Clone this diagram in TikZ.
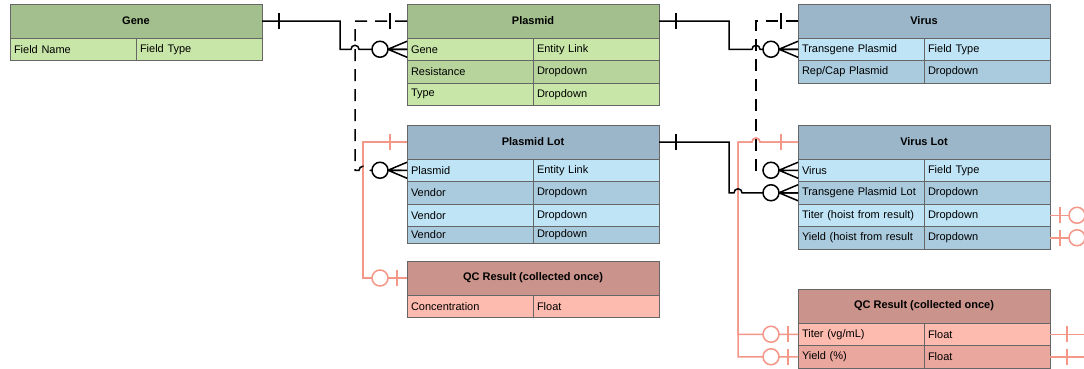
\documentclass[tikz,border=0pt]{standalone}
\usepackage{fontspec}
\setmainfont{Liberation Sans}
\usepackage{xcolor}
\usepackage{tikz}
\usetikzlibrary{positioning,calc}

\definecolor{greenhead}{RGB}{163,191,141}
\definecolor{greenrow}{RGB}{199,230,167}
\definecolor{greenalt}{RGB}{182,212,155}
\definecolor{bluehead}{RGB}{155,182,201}
\definecolor{bluerow}{RGB}{190,228,246}
\definecolor{bluealt}{RGB}{170,203,222}
\definecolor{redhead}{RGB}{202,147,139}
\definecolor{redrow}{RGB}{253,186,175}
\definecolor{redalt}{RGB}{234,167,158}
\definecolor{qcline}{RGB}{244,150,136}

\begin{document}
\begin{tikzpicture}[
  x=1pt, y=1pt,
  font=\fontsize{11pt}{13pt}\selectfont,
  head/.style={rectangle, draw=black!60, fill=#1, line width=0.8pt, font=\fontsize{11pt}{13pt}\selectfont\bfseries, minimum width=252pt, minimum height=34pt, inner sep=0pt, outer sep=0pt},
  cell/.style={rectangle, draw=black!60, fill=#1, line width=0.8pt, text width=118pt, inner xsep=4pt, inner ysep=0pt, minimum height=22.5pt, align=left, outer sep=0pt},
  rel/.style={line width=1.5pt, black},
  qc/.style={line width=1.5pt, qcline},
  linkdash/.style={rel, dash pattern=on 12pt off 8pt},
  pics/zeromany/.style={code={
    \draw (-19,0) -- (0,8) (-19,0) -- (0,0) (-19,0) -- (0,-8);
    \draw[fill=white] (-27,0) circle[radius=8pt];
  }},
  pics/zeroone/.style={code={
    \draw (-10,8) -- (-10,-8);
    \draw[fill=white] (-27,0) circle[radius=8pt];
  }},
  pics/onebar/.style={code={
    \draw (-17,8) -- (-17,-8);
  }}
]
  \useasboundingbox (0,0) rectangle (1084,-368);
  \clip (0,0) rectangle (1084,-368);

  % Gene table
  \node[head=greenhead] (gene) at (136,-21) {Gene};
  \node[cell=greenrow, anchor=north west] (gene-n1) at (gene.south west) {Field Name};
  \node[cell=greenrow, right=0pt of gene-n1] (gene-t1) {Field Type};

  % Plasmid table
  \node[head=greenhead] (plasmid) at (533,-21) {Plasmid};
  \node[cell=greenrow, anchor=north west] (plasmid-n1) at (plasmid.south west) {Gene};
  \node[cell=greenrow, right=0pt of plasmid-n1] (plasmid-t1) {Entity Link};
  \node[cell=greenalt, below=0pt of plasmid-n1] (plasmid-n2) {Resistance};
  \node[cell=greenalt, right=0pt of plasmid-n2] (plasmid-t2) {Dropdown};
  \node[cell=greenrow, below=0pt of plasmid-n2] (plasmid-n3) {Type};
  \node[cell=greenrow, right=0pt of plasmid-n3] (plasmid-t3) {Dropdown};

  % Virus table
  \node[head=bluehead] (virus) at (924,-21) {Virus};
  \node[cell=bluerow, anchor=north west] (virus-n1) at (virus.south west) {Transgene Plasmid};
  \node[cell=bluerow, right=0pt of virus-n1] (virus-t1) {Field Type};
  \node[cell=bluealt, below=0pt of virus-n1] (virus-n2) {Rep/Cap Plasmid};
  \node[cell=bluealt, right=0pt of virus-n2] (virus-t2) {Dropdown};

  % Plasmid Lot table
  \node[head=bluehead] (plasmidlot) at (533,-142) {Plasmid Lot};
  \node[cell=bluerow, anchor=north west] (plasmidlot-n1) at (plasmidlot.south west) {Plasmid};
  \node[cell=bluerow, right=0pt of plasmidlot-n1] (plasmidlot-t1) {Entity Link};
  \node[cell=bluealt, below=0pt of plasmidlot-n1] (plasmidlot-n2) {Vendor};
  \node[cell=bluealt, right=0pt of plasmidlot-n2] (plasmidlot-t2) {Dropdown};
  \node[cell=bluerow, below=0pt of plasmidlot-n2] (plasmidlot-n3) {Vendor};
  \node[cell=bluerow, right=0pt of plasmidlot-n3] (plasmidlot-t3) {Dropdown};
  \node[cell=bluealt, minimum height=17pt, below=0pt of plasmidlot-n3] (plasmidlot-n4) {Vendor};
  \node[cell=bluealt, minimum height=17pt, right=0pt of plasmidlot-n4] (plasmidlot-t4) {Dropdown};

  % Virus Lot table
  \node[head=bluehead] (viruslot) at (924,-142) {Virus Lot};
  \node[cell=bluerow, anchor=north west] (viruslot-n1) at (viruslot.south west) {Virus};
  \node[cell=bluerow, right=0pt of viruslot-n1] (viruslot-t1) {Field Type};
  \node[cell=bluealt, below=0pt of viruslot-n1] (viruslot-n2) {Transgene Plasmid Lot};
  \node[cell=bluealt, right=0pt of viruslot-n2] (viruslot-t2) {Dropdown};
  \node[cell=bluerow, below=0pt of viruslot-n2] (viruslot-n3) {Titer (hoist from result)};
  \node[cell=bluerow, right=0pt of viruslot-n3] (viruslot-t3) {Dropdown};
  \node[cell=bluealt, below=0pt of viruslot-n3] (viruslot-n4) {Yield (hoist from result};
  \node[cell=bluealt, right=0pt of viruslot-n4] (viruslot-t4) {Dropdown};

  % QC Result tables
  \node[head=redhead] (qcplasmid) at (533,-278) {QC Result (collected once)};
  \node[cell=redrow, anchor=north west] (qcplasmid-n1) at (qcplasmid.south west) {Concentration};
  \node[cell=redrow, right=0pt of qcplasmid-n1] (qcplasmid-t1) {Float};

  \node[head=redhead] (qcvirus) at (924,-306) {QC Result (collected once)};
  \node[cell=redrow, anchor=north west] (qcvirus-n1) at (qcvirus.south west) {Titer (vg/mL)};
  \node[cell=redrow, right=0pt of qcvirus-n1] (qcvirus-t1) {Float};
  \node[cell=redalt, below=0pt of qcvirus-n1] (qcvirus-n2) {Yield (\%)};
  \node[cell=redalt, right=0pt of qcvirus-n2] (qcvirus-t2) {Float};

  % Dashed links
  \draw[linkdash] (virus.west) -- ++(-42,0) |- (viruslot-n1.west);

  % QC links
  \draw[qc] (plasmidlot.west) -- ++(-44,0) |- (qcplasmid.west);
  \draw[qc] (viruslot.west) -- ++(-38,0) arc[start angle=0, end angle=180, radius=4pt]
    -- ++(-14,0) |- (qcvirus-n1.west);
  \draw[qc] (viruslot.west) -- ++(-38,0) arc[start angle=0, end angle=180, radius=4pt]
    -- ++(-14,0) |- (qcvirus-n2.west);
  \draw[qc] (viruslot-t3.east) -- ++(60,0) |- (qcvirus-t1.east);
  \draw[qc] (viruslot-t4.east) -- ++(48,0) |- (qcvirus-t2.east);

  % Solid links
  \draw[rel] (gene.east) -- ++(78,0) |- ([xshift=-56pt]plasmid-n1.west)
    arc[start angle=180, end angle=0, radius=4pt] -- (plasmid-n1.west);
  \draw[linkdash] (plasmid.west) -- ++(-52,0) |- ([xshift=-48pt]plasmidlot-n1.west)
    arc[start angle=180, end angle=0, radius=4pt] -- (plasmidlot-n1.west);
  \draw[rel] (plasmid.east) -- ++(70,0) |- ([xshift=-46pt]virus-n1.west)
    arc[start angle=180, end angle=0, radius=4pt] -- (virus-n1.west);
  \draw[rel] (plasmidlot.east) -- ++(70,0) |- ([xshift=-64pt]viruslot-n2.west)
    arc[start angle=180, end angle=0, radius=4pt] -- (viruslot-n2.west);

  % Link ends
  \pic[rel, rotate=180] at (gene.east) {onebar};
  \pic[rel] at (plasmid-n1.west) {zeromany};
  \pic[rel] at (plasmid.west) {onebar};
  \pic[rel, rotate=180] at (plasmid.east) {onebar};
  \pic[rel] at (virus-n1.west) {zeromany};
  \pic[rel] at (virus.west) {onebar};
  \pic[rel] at (plasmidlot-n1.west) {zeromany};
  \pic[rel, rotate=180] at (plasmidlot.east) {onebar};
  \pic[rel] at (viruslot-n1.west) {zeromany};
  \pic[rel] at (viruslot-n2.west) {zeromany};
  \pic[qc] at (plasmidlot.west) {onebar};
  \pic[qc] at (qcplasmid.west) {zeroone};
  \pic[qc] at (viruslot.west) {onebar};
  \pic[qc] at (qcvirus-n1.west) {zeroone};
  \pic[qc] at (qcvirus-n2.west) {zeroone};
  \pic[qc, rotate=180] at (viruslot-t3.east) {zeroone};
  \pic[qc, rotate=180] at (viruslot-t4.east) {zeroone};
  \pic[qc, rotate=180] at (qcvirus-t1.east) {onebar};
  \pic[qc, rotate=180] at (qcvirus-t2.east) {onebar};

\end{tikzpicture}
\end{document}
